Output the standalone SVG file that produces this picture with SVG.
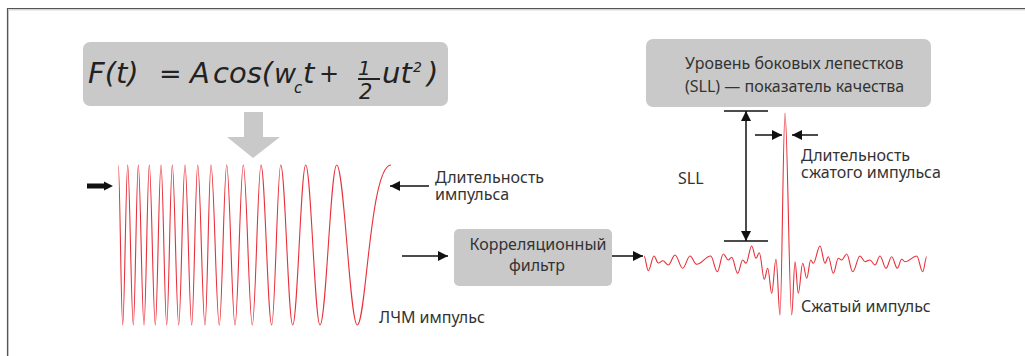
<svg xmlns="http://www.w3.org/2000/svg" width="1025" height="356" viewBox="0 0 1025 356">
<defs>
<marker id="ah" viewBox="0 0 10 10" refX="10" refY="5" markerWidth="10" markerHeight="10" markerUnits="userSpaceOnUse" orient="auto"><path d="M0,0 L10,5 L0,10 z" fill="#111"/></marker>
</defs>
<style>
.box{fill:#c9c9c9}
.lbl{font-family:"Noto Sans","DejaVu Sans",sans-serif;font-size:16px;fill:#333}
.fx{font-family:"DejaVu Sans",sans-serif;font-style:italic;fill:#222}
.wave{fill:none;stroke:#e8303a;stroke-width:1.1;stroke-linejoin:round}
.ln{stroke:#111;stroke-width:1.5;fill:none}
</style>
<rect width="1025" height="356" fill="#fff"/>
<g id="frame">
<path d="M7.5,356 V8.5 H1025" fill="none" stroke="#555" stroke-width="1.2"/>
<path d="M8.5,356 V9.8 H1025" fill="none" stroke="#c4c4c4" stroke-width="1"/>
</g>
<g id="formula">
<rect class="box" x="83" y="42" width="365" height="64" rx="7"/>
<text class="fx" x="88" y="83" font-size="29">F(t)</text>
<text class="fx" x="159" y="83" font-size="27">=</text>
<text class="fx" x="190" y="83" font-size="29">A</text>
<text class="fx" x="213" y="83" font-size="29">cos(</text>
<text class="fx" font-size="27"><tspan x="274" y="83">w</tspan><tspan x="294" y="93" font-size="15">c</tspan></text>
<text class="fx" x="303" y="83" font-size="29">t</text>
<text class="fx" x="319" y="82" font-size="24">+</text>
<text class="fx" x="358" y="75" font-size="20">1</text>
<line x1="358" y1="79" x2="380" y2="79" stroke="#222" stroke-width="2"/>
<text class="fx" x="359" y="99" font-size="21">2</text>
<text class="fx" font-size="29"><tspan x="382" y="83">ut</tspan><tspan x="413" y="72" font-size="14">2</tspan></text>
<text class="fx" x="427" y="83" font-size="29">)</text>
</g>
<g id="down-arrow">
<polygon class="box" points="244,112 263,112 263,137 280,137 253,158 227,137 244,137"/>
</g>
<g id="chirp">
<path class="wave" d="M118.3,165 C119.9,165 121.1,325 122.7,325 C124.5,325 125.9,165 127.7,165 C129.7,165 131.3,325 133.3,325 C135.1,325 136.5,165 138.3,165 C140.4,165 141.9,325 144,325 C145.9,325 147.4,165 149.3,165 C151.5,165 153.1,325 155.3,325 C157.4,325 158.9,165 161,165 C163.1,165 164.6,325 166.7,325 C168.7,325 170.3,165 172.3,165 C174.6,165 176.4,325 178.7,325 C181,325 182.7,165 185,165 C187.4,165 189.3,325 191.7,325 C193.9,325 195.5,165 197.7,165 C200.4,165 202.3,325 205,325 C207.2,325 208.8,165 211,165 C214,165 216.3,325 219.3,325 C222,325 224,165 226.7,165 C229.7,165 232,325 235,325 C238,325 240.3,165 243.3,165 C246.6,165 249,325 252.3,325 C255.5,325 257.8,165 261,165 C264.9,165 267.8,325 271.7,325 C275,325 277.4,165 280.7,165 C285.1,165 288.3,325 292.7,325 C297.4,325 301,165 305.7,165 C310.9,165 314.8,325 320,325 C326.1,325 330.6,165 336.7,165 C344.2,165 349.8,325 357.3,325 C366,325 370,165 391,165"/>
<polygon fill="#111" points="87,183.5 104,183.5 104,181.5 113,186 104,190.5 104,188.5 87,188.5"/>
<text class="lbl" x="379" y="323">ЛЧМ импульс</text>
</g>
<g id="pulse-duration">
<text class="lbl"><tspan x="435" y="183">Длительность</tspan><tspan x="435" y="200">импульса</tspan></text>
</g>
<g id="filter">
<rect class="box" x="454" y="229" width="158" height="57" rx="5"/>
<text class="lbl" text-anchor="middle"><tspan x="538" y="250">Корреляционный</tspan><tspan x="537" y="271">фильтр</tspan></text>
</g>
<g id="sll-box">
<rect class="box" x="646" y="39" width="285" height="68" rx="7"/>
<text class="lbl"><tspan x="685" y="69">Уровень боковых лепестков</tspan><tspan x="685" y="92">(SLL) — показатель качества</tspan></text>
</g>
<g id="compressed">
<path class="wave" d="M644,256 C645.6,256 646.7,270.7 648.3,270.7 C650.4,270.7 651.9,256 654,256 C655.6,256 656.7,263 658.3,263 C660,263 661.3,260.7 663,260.7 C664.9,260.7 666.4,265 668.3,265 C670.7,265 672.6,255 675,255 C677.8,255 679.9,268.3 682.7,268.3 C685.4,268.3 687.3,256 690,256 C692.4,256 694.3,264.3 696.7,264.3 C701.8,264.3 705.6,256 710.7,256 C713.1,256 714.9,271.7 717.3,271.7 C719.5,271.7 721.1,254 723.3,254 C725.1,254 726.5,260 728.3,260 C729.5,260 730.5,257.3 731.7,257.3 C733.9,257.3 735.5,273.3 737.7,273.3 C739.5,273.3 740.9,260 742.7,260 C743.9,260 744.8,263.3 746,263.3 C748.1,263.3 749.6,246 751.7,246 C753.3,246 754.4,258.3 756,258.3 C757.2,258.3 758.1,252.7 759.3,252.7 C761.1,252.7 762.5,279.3 764.3,279.3 C765.5,279.3 766.5,268.3 767.7,268.3 C769.2,268.3 770.3,293.3 771.7,293.3 C773.3,293.3 774.4,259.3 776,259.3 C777.5,259.3 778.6,315 780,315 C781.8,315 783.2,113 785,113 C787.4,113 789.3,315 791.7,315 C792.9,315 793.8,261.7 795,261.7 C796.2,261.7 797.1,293.3 798.3,293.3 C799.9,293.3 801.1,263.3 802.7,263.3 C804.2,263.3 805.3,278.3 806.7,278.3 C808.2,278.3 809.3,260 810.7,260 C811.6,260 812.4,263.3 813.3,263.3 C815.7,263.3 817.6,246 820,246 C821.8,246 823.2,263.3 825,263.3 C826.2,263.3 827.1,256.7 828.3,256.7 C830.1,256.7 831.5,273.3 833.3,273.3 C835.1,273.3 836.5,258.3 838.3,258.3 C839.5,258.3 840.5,260 841.7,260 C843.5,260 844.9,254 846.7,254 C848.9,254 850.5,271.7 852.7,271.7 C855.4,271.7 857.3,256 860,256 C861.8,256 863.2,261.7 865,261.7 C866.8,261.7 868.2,260 870,260 C871.8,260 873.2,265 875,265 C876.8,265 878.2,256 880,256 C882.2,256 883.8,268.3 886,268.3 C888.1,268.3 889.6,256.7 891.7,256.7 C893.7,256.7 895.3,268.3 897.3,268.3 C898.9,268.3 900.1,259.3 901.7,259.3 C902.9,259.3 903.8,261.7 905,261.7 C909.3,261.7 912.5,256 916.7,256 C918.9,256 920.5,271.7 922.7,271.7 C924.2,271.7 925.3,256.7 926.7,256.7"/>
<text class="lbl" x="678" y="184" font-size="17">SLL</text>
<text class="lbl"><tspan x="801" y="161">Длительность</tspan><tspan x="801" y="178">сжатого импульса</tspan></text>
<text class="lbl" x="801" y="312">Сжатый импульс</text>
</g>
<g id="connectors">
<line class="ln" x1="429" y1="186" x2="390" y2="186" marker-end="url(#ah)"/>
<line class="ln" x1="402" y1="256" x2="448" y2="256" marker-end="url(#ah)"/>
<line class="ln" x1="612" y1="256" x2="643" y2="256" marker-end="url(#ah)"/>
<line class="ln" x1="724" y1="111" x2="768" y2="111"/>
<line class="ln" x1="724" y1="241" x2="768" y2="241"/>
<line class="ln" x1="746" y1="176" x2="746" y2="111" marker-end="url(#ah)"/>
<line class="ln" x1="746" y1="176" x2="746" y2="241" marker-end="url(#ah)"/>
<line class="ln" x1="755" y1="135" x2="782" y2="135" marker-end="url(#ah)"/>
<line class="ln" x1="818" y1="135" x2="792" y2="135" marker-end="url(#ah)"/>
</g>
</svg>
